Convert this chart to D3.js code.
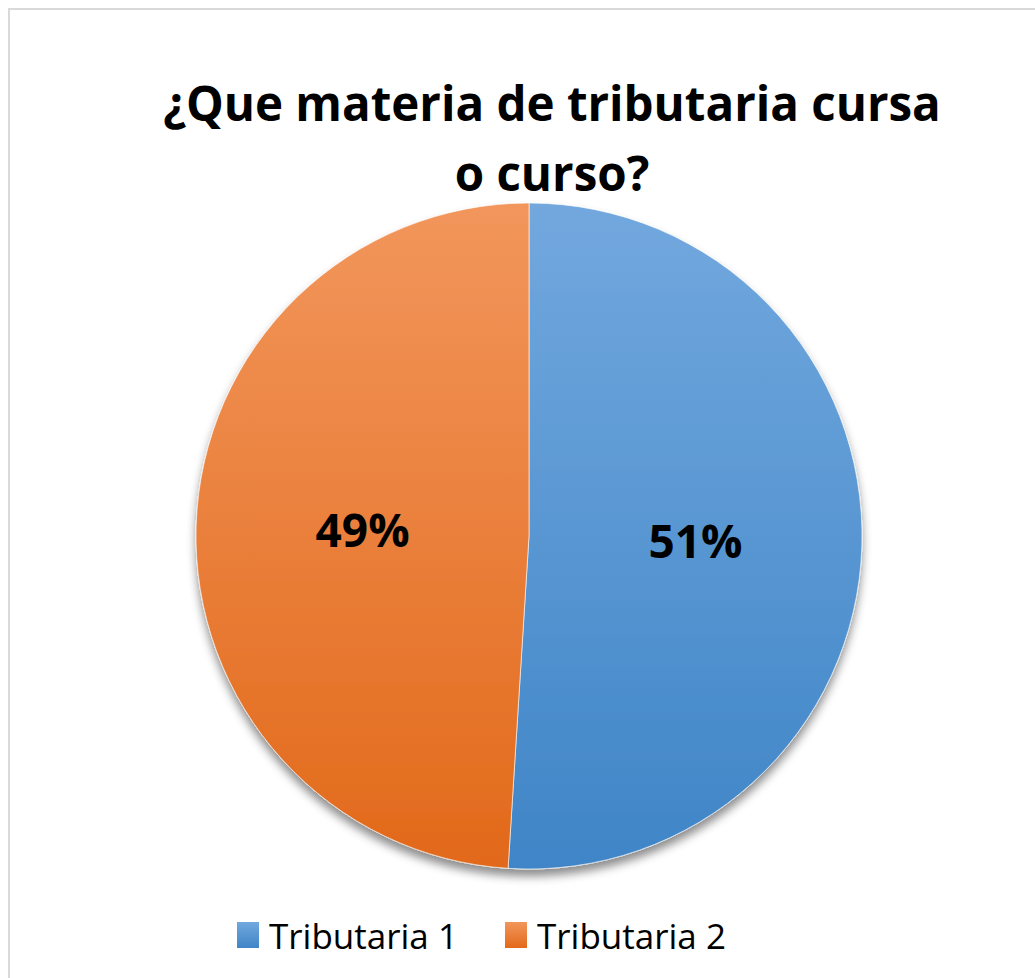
<!DOCTYPE html>
<html>
<head>
<meta charset="utf-8">
<script src="https://cdn.jsdelivr.net/npm/d3@7"></script>
<style>
  body { margin: 0; background: #fff; }
  text { font-family: "Open Sans", "DejaVu Sans", sans-serif; }
</style>
</head>
<body>
<div id="chart"></div>
<script>
// data
var categories = ["Tributaria 1", "Tributaria 2"];
var values = [51, 49];
var titleLines = ["¿Que materia de tributaria cursa", "o curso?"];

var width = 1035,
    height = 978,
    cx = 529, cy = 536, // pie centre
    radius = 333;

// light/dark gradient stops per slice
var colorsTop = ["#72a8de", "#f2965c"],
    colorsBottom = ["#3f85c7", "#e2691a"];

var svg = d3.select("#chart").append("svg")
    .attr("width", width)
    .attr("height", height);

var defs = svg.append("defs");

categories.forEach(function(c, i){
    var g = defs.append("linearGradient")
        .attr("id", "grad" + i)
        .attr("x1", 0).attr("y1", 0)
        .attr("x2", 0).attr("y2", 1);
    g.append("stop").attr("offset", "0%").attr("stop-color", colorsTop[i]);
    g.append("stop").attr("offset", "100%").attr("stop-color", colorsBottom[i]);

    // pie gradient in user space so both halves share the same vertical ramp
    var gp = defs.append("linearGradient")
        .attr("id", "pgrad" + i)
        .attr("gradientUnits", "userSpaceOnUse")
        .attr("x1", 0).attr("y1", -radius)
        .attr("x2", 0).attr("y2", radius);
    gp.append("stop").attr("offset", "0%").attr("stop-color", colorsTop[i]);
    gp.append("stop").attr("offset", "100%").attr("stop-color", colorsBottom[i]);
});

// soft shadow under the pie
var shadow = defs.append("filter")
    .attr("id", "shadow")
    .attr("x", "-10%").attr("y", "-10%")
    .attr("width", "120%").attr("height", "125%");
shadow.append("feDropShadow")
    .attr("dx", 0).attr("dy", 7)
    .attr("stdDeviation", 5)
    .attr("flood-color", "#000")
    .attr("flood-opacity", 0.45);

// outer frame
svg.append("rect")
    .attr("x", 9).attr("y", 9)
    .attr("width", width + 10).attr("height", height + 10)
    .attr("fill", "none")
    .attr("stroke", "#d9d9d9")
    .attr("stroke-width", 2);

// title
svg.append("text")
    .attr("x", 552)
    .attr("text-anchor", "middle")
    .attr("font-weight", "bold")
    .attr("font-size", 47.5)
    .selectAll("tspan")
    .data(titleLines)
  .enter()
    .append("tspan")
    .attr("x", 552)
    .attr("y", function(d, i){ return 121 + i * 70; })
    .text(function(d){ return d; });

// pie
var pie = d3.pie().sort(null).value(function(d){ return d; });
var arc = d3.arc().innerRadius(0).outerRadius(radius);
var labelArc = d3.arc().innerRadius(radius * 0.5).outerRadius(radius * 0.5);
var arcs = pie(values);

var pg = svg.append("g")
    .attr("transform", "translate(" + cx + "," + cy + ")");

pg.append("g")
    .attr("filter", "url(#shadow)")
    .selectAll("path")
    .data(arcs)
  .enter()
    .append("path")
    .attr("d", arc)
    .attr("fill", function(d, i){ return "url(#pgrad" + i + ")"; })
    .attr("stroke", "#fff")
    .attr("stroke-width", 0.6);

var total = d3.sum(values);
pg.selectAll(".lbl")
    .data(arcs)
  .enter()
    .append("text")
    .attr("class", "lbl")
    .attr("transform", function(d){
        var c = labelArc.centroid(d);
        return "translate(" + c[0] + "," + c[1] + ")";
    })
    .attr("text-anchor", "middle")
    .attr("dy", "0.36em")
    .attr("font-weight", "bold")
    .attr("font-size", 46)
    .text(function(d){ return Math.round(d.value / total * 100) + "%"; });

// legend
var legendX = [237, 505];
var leg = svg.selectAll(".legend")
    .data(categories)
  .enter()
    .append("g")
    .attr("class", "legend")
    .attr("transform", function(d, i){ return "translate(" + legendX[i] + ",922)"; });

leg.append("rect")
    .attr("width", 22)
    .attr("height", 26)
    .attr("fill", function(d, i){ return "url(#grad" + i + ")"; });

leg.append("text")
    .attr("x", 32)
    .attr("y", 27)
    .attr("font-size", 35)
    .text(function(d){ return d; });
</script>
</body>
</html>
